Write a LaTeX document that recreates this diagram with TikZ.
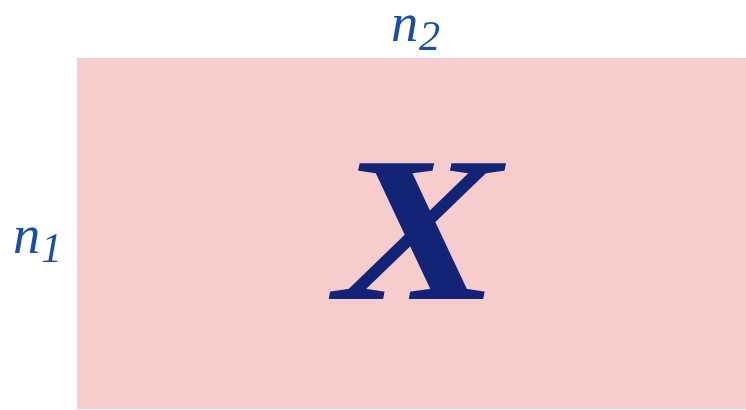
\documentclass[tikz,border=0pt]{standalone}
\usepackage{fontspec}
\setmainfont{Liberation Serif}
\usepackage{xcolor}
\usetikzlibrary{positioning}

\definecolor{matpink}{HTML}{F6CCCD}
\definecolor{matblue}{HTML}{132477}
\definecolor{dimblue}{HTML}{1A4FA6}

\begin{document}
\begin{tikzpicture}[
    x=0.02cm, y=-0.02cm,
    dimlabel/.style={text=dimblue, font=\fontsize{31}{33}\selectfont\itshape, inner sep=0pt},
    matlabel/.style={text=matblue, font=\fontsize{118}{120}\selectfont\bfseries\itshape, inner sep=0pt}
]
    \useasboundingbox (0,0) rectangle (746,409);
    \fill[matpink] (77,58) rectangle (746,409);

    \node[matlabel] (X) at (418,232) {\scalebox{1.2}[1]{X}};
    \node[dimlabel] (ntwo) at (416,33) {n\raisebox{-0.35ex}{\fontsize{24}{26}\selectfont 2}};
    \node[dimlabel] (none) at (38,245) {n\raisebox{-0.35ex}{\fontsize{24}{26}\selectfont 1}};
\end{tikzpicture}
\end{document}
